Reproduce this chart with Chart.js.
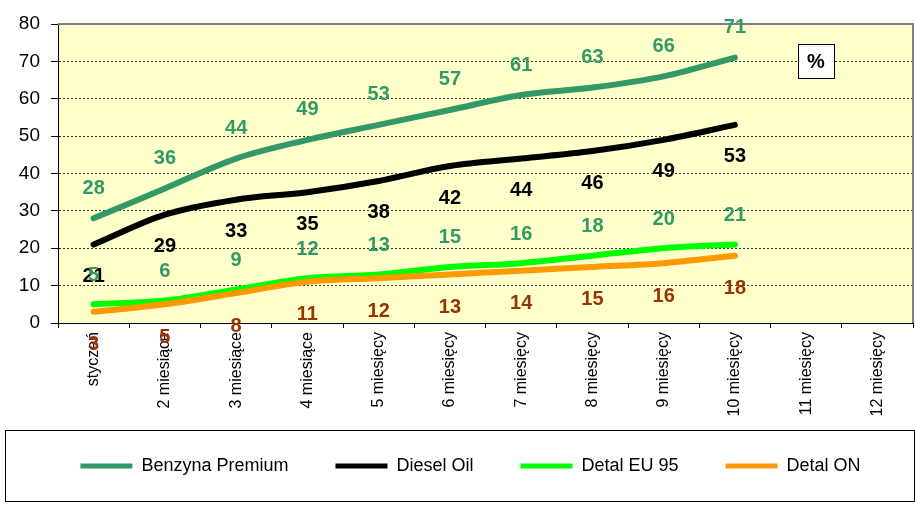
<!DOCTYPE html>
<html>
<head>
<meta charset="utf-8">
<script src="https://cdn.jsdelivr.net/npm/chart.js@4.4.1/dist/chart.umd.min.js"></script>
<style>
html,body{margin:0;padding:0;background:#fff;}
#wrap{width:915px;height:511px;position:relative;}
</style>
</head>
<body>
<div id="wrap"><canvas id="c" width="915" height="511"></canvas></div>
<script>
const categories = ['styczeń','2 miesiące','3 miesiące','4 miesiące','5 miesięcy','6 miesięcy','7 miesięcy','8 miesięcy','9 miesięcy','10 miesięcy','11 miesięcy','12 miesięcy'];
const benzynaPremium = [28,36,44,49,53,57,61,63,66,71,null,null];
const dieselOil = [21,29,33,35,38,42,44,46,49,53,null,null];
const detalEU95 = [5,6,9,12,13,15,16,18,20,21,null,null];
const detalON = [3,5,8,11,12,13,14,15,16,18,null,null];
const yTicks = [0,10,20,30,40,50,60,70,80];

const FONT = 'Arial, "Liberation Sans", sans-serif';

const bgPlugin = {
  id: 'bg',
  afterLayout(chart) {
    const sx = chart.scales.x, sy = chart.scales.y;
    if (sx) sx._computeLabelArea = () => undefined;
    if (sy) sy._computeLabelArea = () => undefined;
  },
  beforeDraw(chart) {
    const {ctx, chartArea: a} = chart;
    ctx.save();
    ctx.fillStyle = '#FFFFCC';
    ctx.fillRect(a.left, a.top, a.right - a.left, a.bottom - a.top);
    ctx.restore();
  },
  afterDatasetsDraw(chart) {
    const {ctx, chartArea: a} = chart;
    ctx.save();
    ctx.strokeStyle = '#808080';
    ctx.lineWidth = 2;
    ctx.beginPath();
    ctx.moveTo(a.left, a.top);
    ctx.lineTo(a.right, a.top);
    ctx.lineTo(a.right, a.bottom);
    ctx.stroke();
    const cfg = [
      {off: -30, color: '#339966'},
      {off: 32, color: '#000000'},
      {off: -29, color: '#339966'},
      {off: 33, color: '#993300'}
    ];
    ctx.font = 'bold 20px ' + FONT;
    ctx.textAlign = 'center';
    ctx.textBaseline = 'middle';
    chart.data.datasets.forEach((ds, i) => {
      const meta = chart.getDatasetMeta(i);
      meta.data.forEach((pt, j) => {
        const v = ds.data[j];
        if (v === null || v === undefined) return;
        ctx.fillStyle = cfg[i].color;
        ctx.fillText(String(v), pt.x, pt.y + cfg[i].off);
      });
    });
    const bx = Math.round(chart.scales.x.getPixelForValue(10.14));
    const by = Math.round(chart.scales.y.getPixelForValue(70));
    ctx.fillStyle = '#fff';
    ctx.fillRect(bx - 18, by - 17, 36, 34);
    ctx.strokeStyle = '#000';
    ctx.lineWidth = 1;
    ctx.strokeRect(bx - 18 + 0.5, by - 17 + 0.5, 36, 34);
    ctx.fillStyle = '#000';
    ctx.font = 'bold 20px ' + FONT;
    ctx.fillText('%', bx, by + 1);
    ctx.restore();
  },
  afterDraw(chart) {
    const {ctx} = chart;
    ctx.save();
    ctx.strokeStyle = '#000';
    ctx.lineWidth = 1;
    ctx.strokeRect(5.5, 430.5, 909, 71);
    ctx.restore();
  }
};

new Chart(document.getElementById('c'), {
  type: 'line',
  data: {
    labels: categories,
    datasets: [
      {label: 'Benzyna Premium', data: benzynaPremium, borderColor: '#339966', backgroundColor: '#339966', borderWidth: 6, order: 4},
      {label: 'Diesel Oil', data: dieselOil, borderColor: '#000000', backgroundColor: '#000000', borderWidth: 6, order: 3},
      {label: 'Detal EU 95', data: detalEU95, borderColor: '#00FF00', backgroundColor: '#00FF00', borderWidth: 6, order: 2},
      {label: 'Detal ON', data: detalON, borderColor: '#FF9900', backgroundColor: '#FF9900', borderWidth: 6, order: 1}
    ]
  },
  options: {
    responsive: false,
    animation: false,
    devicePixelRatio: 1,
    layout: {padding: {left: 28, right: 2, top: 24, bottom: 26}},
    elements: {
      point: {radius: 0, hoverRadius: 0},
      line: {tension: 0.3, borderCapStyle: 'round', borderJoinStyle: 'round', cubicInterpolationMode: 'monotone'}
    },
    plugins: {
      legend: {
        position: 'bottom',
        sort: (a, b) => a.datasetIndex - b.datasetIndex,
        labels: {
          boxWidth: 52,
          boxHeight: 5,
          padding: 47,
          color: '#000',
          font: {family: FONT, size: 18},
          generateLabels(chart) {
            return chart.data.datasets.map((ds, i) => ({
              text: ds.label,
              fillStyle: ds.borderColor,
              strokeStyle: ds.borderColor,
              lineWidth: 0,
              datasetIndex: i,
              hidden: false
            }));
          }
        }
      },
      tooltip: {enabled: false}
    },
    scales: {
      x: {
        offset: true,
        afterFit(scale) { scale.height = 87; },
        grid: {
          offset: true,
          drawOnChartArea: false,
          drawTicks: true,
          tickLength: 5,
          tickColor: '#000',
          color: '#000'
        },
        border: {display: true, color: '#000', width: 1},
        ticks: {
          minRotation: 90,
          maxRotation: 90,
          autoSkip: false,
          color: '#000',
          padding: 4,
          font: {family: FONT, size: 16}
        }
      },
      y: {
        min: 0,
        max: 80,
        afterFit(scale) { scale.width = 30; },
        afterBuildTicks(scale) { scale.ticks = yTicks.map(v => ({value: v})); },
        grid: {
          drawTicks: true,
          tickLength: 7,
          tickColor: '#000',
          color: (c) => (c.tick && (c.tick.value === 0 || c.tick.value === 80)) ? 'rgba(0,0,0,0)' : '#333',
          lineWidth: 1
        },
        border: {display: true, color: '#000', width: 1, dash: [2, 2]},
        ticks: {
          color: '#000',
          padding: 11,
          font: {family: FONT, size: 19}
        }
      }
    }
  },
  plugins: [bgPlugin]
});
</script>
</body>
</html>
